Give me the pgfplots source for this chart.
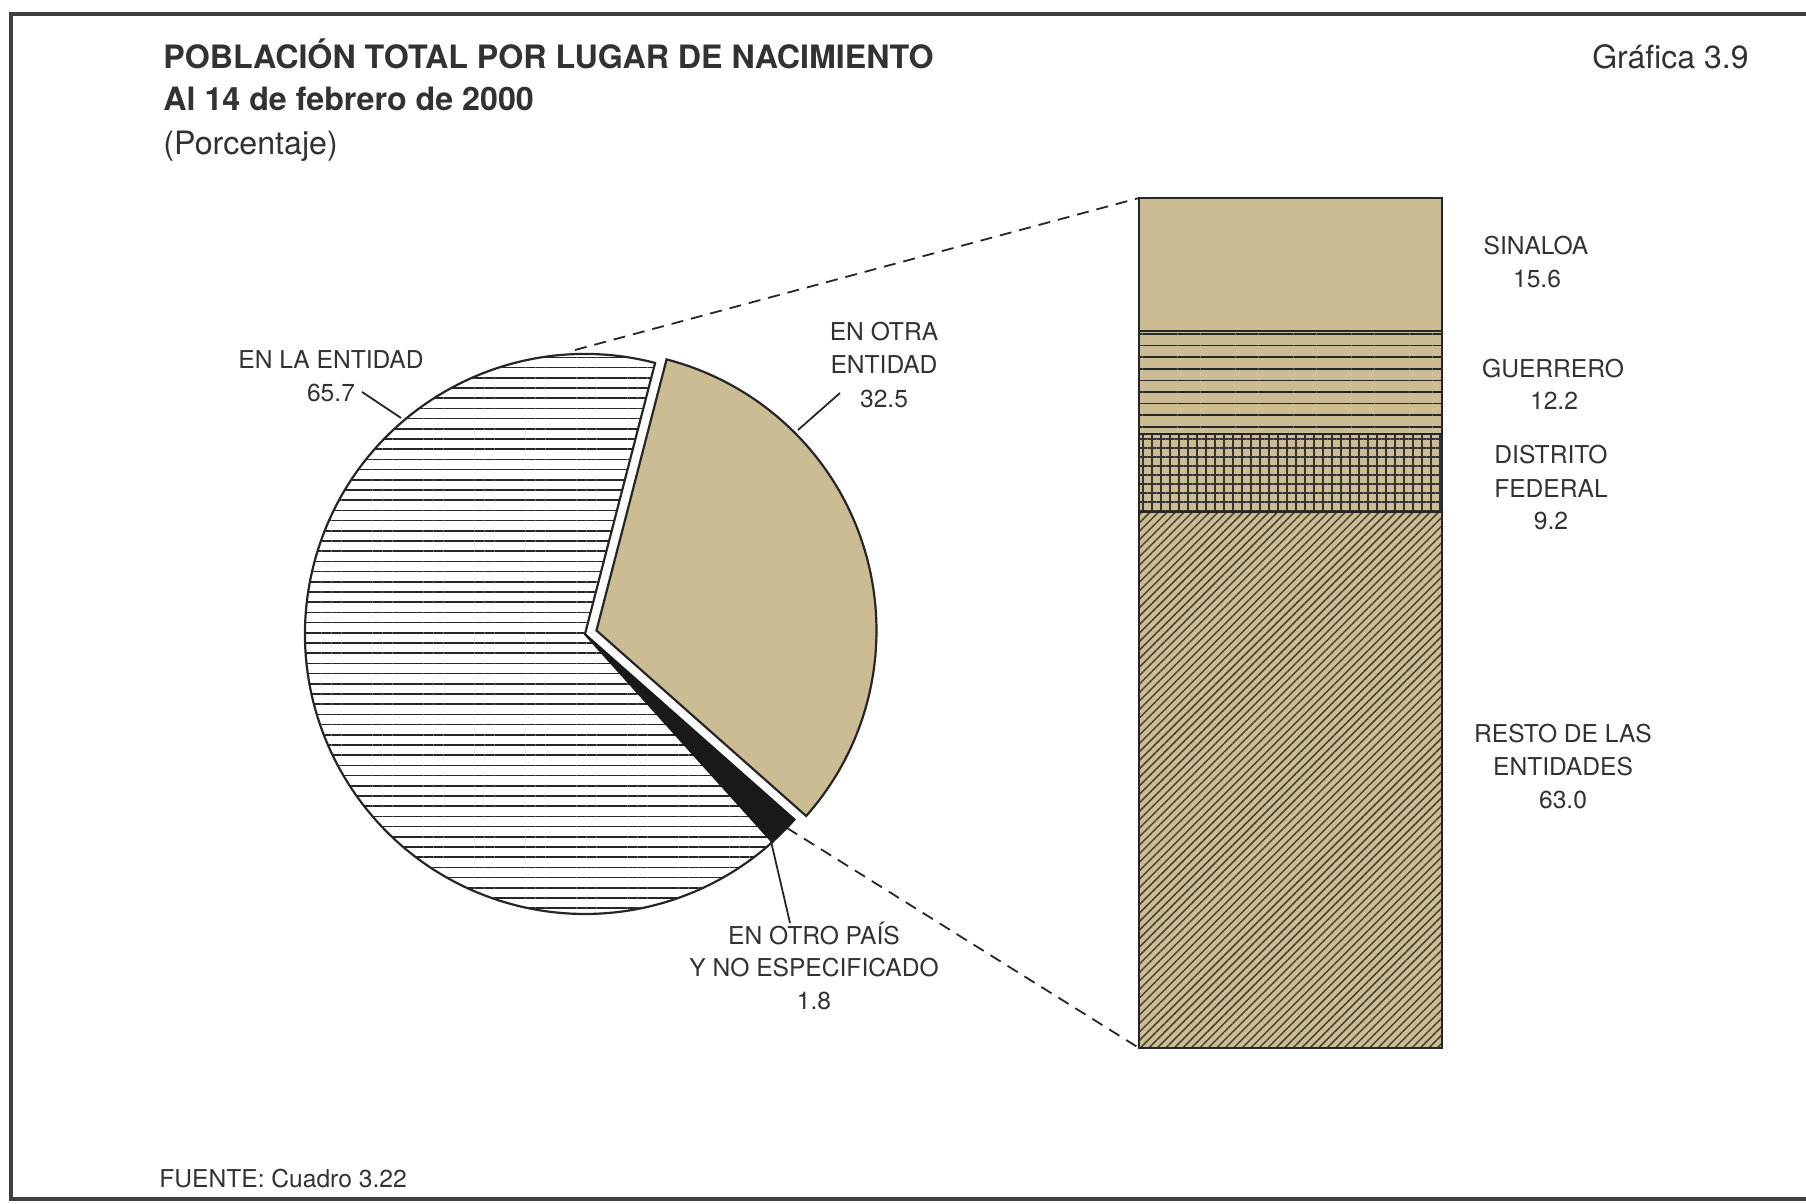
\documentclass[border=0pt]{standalone}
\usepackage{fontspec}
\setmainfont{TeX Gyre Heros}
\usepackage{pgfplots}
\pgfplotsset{compat=1.18}
\usepackage{pgfplotstable}
\usetikzlibrary{patterns.meta}
\definecolor{beige}{RGB}{203,188,148}
\definecolor{txt}{RGB}{50,50,50}
\definecolor{hatch}{RGB}{72,64,50}

% pie data (percent)
\pgfplotstableread{
cat val
entidad 65.7
otropais 1.8
otraentidad 32.5
}\pietab
\pgfplotstablegetelem{0}{val}\of\pietab \let\vA\pgfplotsretval
\pgfplotstablegetelem{1}{val}\of\pietab \let\vB\pgfplotsretval
\pgfplotstablegetelem{2}{val}\of\pietab \let\vC\pgfplotsretval
\pgfmathsetmacro{\aS}{75.5}
\pgfmathsetmacro{\aB}{\aS+3.6*\vA}
\pgfmathsetmacro{\aC}{\aB+3.6*\vB}
\pgfmathsetmacro{\aE}{\aC+3.6*\vC}
\pgfmathsetmacro{\aM}{(\aC+\aE)/2}

% bar data (percent of "en otra entidad")
\pgfplotstableread{
x resto df guerrero sinaloa
0 63.0 9.2 12.2 15.6
}\bartab

\newcommand{\lab}{\fontsize{12.3}{14.6}\selectfont\color{txt}}

\begin{document}
\begin{tikzpicture}
\begin{axis}[at={(0pt,0pt)}, anchor=south west, width=903pt, height=602pt,
  scale only axis, xmin=0, xmax=1806, ymin=0, ymax=1204, hide axis, clip=false]
% frame
\draw[black!75, line width=1.6pt] (axis cs:1830,1190) -- (axis cs:11,1190) -- (axis cs:11,5) -- (axis cs:1830,5);
% titles
\node[anchor=base west, inner sep=0pt, font=\fontsize{16.1}{19}\selectfont\bfseries, text=txt] at (axis cs:163,1135) {POBLACIÓN TOTAL POR LUGAR DE NACIMIENTO};
\node[anchor=base west, inner sep=0pt, font=\fontsize{16.1}{19}\selectfont\bfseries, text=txt] at (axis cs:163,1093) {Al 14 de febrero de 2000};
\node[anchor=base west, inner sep=0pt, font=\fontsize{16.1}{19}\selectfont, text=txt] at (axis cs:163,1049) {(Porcentaje)};
\node[anchor=base east, inner sep=0pt, font=\fontsize{16}{19}\selectfont, text=txt] at (axis cs:1749,1135) {Gráfica 3.9};
\node[anchor=base west, inner sep=0pt, font=\fontsize{12.3}{14}\selectfont, text=txt] at (axis cs:159,16) {FUENTE: Cuadro 3.22};
% dashed connectors
\draw[black!85, line width=0.9pt, dash pattern=on 6pt off 4pt] (axis cs:575,854) -- (axis cs:1139,1006);
\draw[black!85, line width=0.9pt, dash pattern=on 6pt off 4pt] (axis cs:787,376) -- (axis cs:1139,156);
% pie: en la entidad
\path[preaction={fill=white}, pattern={Lines[angle=0,distance=5.1pt,line width=0.75pt]}, pattern color=black!85,
  draw=black!85, line width=1.1pt]
  (axis cs:585,570) -- ++(\aS:140pt) arc[start angle=\aS, end angle=\aB, radius=140pt] -- cycle;
% pie: en otro pais
\filldraw[fill=black!90, draw=black!90, line width=0.9pt]
  (axis cs:585,570) -- ++(\aB:140pt) arc[start angle=\aB, end angle=\aC, radius=140pt] -- cycle;
% pie: en otra entidad (exploded)
\filldraw[fill=beige, draw=black!85, line width=1.1pt]
  ([shift={(\aM:6pt)}]axis cs:585,570) -- ++(\aC:140pt) arc[start angle=\aC, end angle=\aE, radius=140pt] -- cycle;
% leader lines
\draw[black!85, line width=0.9pt] (axis cs:362,812) -- (axis cs:401,786);
\draw[black!85, line width=0.9pt] (axis cs:840,811) -- (axis cs:798,774);
\draw[black!85, line width=0.9pt] (axis cs:770,367) -- (axis cs:790,281);
% pie labels
\node[anchor=base, inner sep=0pt, font=\lab] at (axis cs:331,835) {EN LA ENTIDAD};
\node[anchor=base, inner sep=0pt, font=\lab] at (axis cs:331,802) {65.7};
\node[anchor=base, inner sep=0pt, font=\lab] at (axis cs:884,863) {EN OTRA};
\node[anchor=base, inner sep=0pt, font=\lab] at (axis cs:884,830) {ENTIDAD};
\node[anchor=base, inner sep=0pt, font=\lab] at (axis cs:884,796) {32.5};
\node[anchor=base, inner sep=0pt, font=\lab] at (axis cs:814,259) {EN OTRO PAÍS};
\node[anchor=base, inner sep=0pt, font=\lab] at (axis cs:814,227) {Y NO ESPECIFICADO};
\node[anchor=base, inner sep=0pt, font=\lab] at (axis cs:814,194) {1.8};
% bar labels
\node[anchor=base, inner sep=0pt, font=\lab] at (axis cs:1536,949) {SINALOA};
\node[anchor=base, inner sep=0pt, font=\lab] at (axis cs:1537,916) {15.6};
\node[anchor=base, inner sep=0pt, font=\lab] at (axis cs:1553,826) {GUERRERO};
\node[anchor=base, inner sep=0pt, font=\lab] at (axis cs:1554,794) {12.2};
\node[anchor=base, inner sep=0pt, font=\lab] at (axis cs:1551,740) {DISTRITO};
\node[anchor=base, inner sep=0pt, font=\lab] at (axis cs:1551,706) {FEDERAL};
\node[anchor=base, inner sep=0pt, font=\lab] at (axis cs:1551,674) {9.2};
\node[anchor=base, inner sep=0pt, font=\lab] at (axis cs:1563,461) {RESTO DE LAS};
\node[anchor=base, inner sep=0pt, font=\lab] at (axis cs:1563,428) {ENTIDADES};
\node[anchor=base, inner sep=0pt, font=\lab] at (axis cs:1563,395) {63.0};
\end{axis}

\begin{axis}[at={(569.5pt,78pt)}, anchor=south west, width=151.5pt, height=425pt,
  scale only axis, ybar stacked, bar width=151.5pt, xmin=-0.5, xmax=0.5,
  ymin=0, ymax=100, hide axis, clip=false]
\addplot[preaction={fill=beige}, pattern={Lines[angle=45,distance=3pt,line width=0.75pt]}, pattern color=hatch,
  draw=black!85, line width=1pt] table[x=x,y=resto]{\bartab};
\addplot[preaction={fill=beige}, pattern={Hatch[angle=0,distance=4.5pt,line width=0.7pt]}, pattern color=black!80,
  draw=black!85, line width=1pt] table[x=x,y=df]{\bartab};
\addplot[preaction={fill=beige}, pattern={Lines[angle=0,distance=5.8pt,line width=0.75pt]}, pattern color=black!85,
  draw=black!85, line width=1pt] table[x=x,y=guerrero]{\bartab};
\addplot[fill=beige, draw=black!85, line width=1pt] table[x=x,y=sinaloa]{\bartab};
\end{axis}
\pgfresetboundingbox
\path[use as bounding box] (0,0) rectangle (903pt,602pt);
\end{tikzpicture}
\end{document}
